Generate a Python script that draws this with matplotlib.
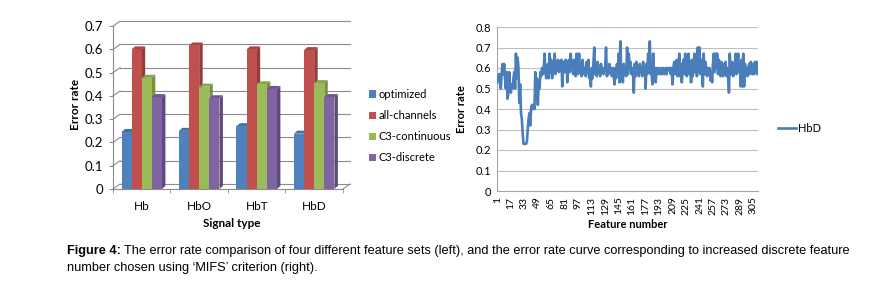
import matplotlib
matplotlib.use("Agg")
import numpy as np
import matplotlib.pyplot as plt
from matplotlib.patches import Polygon

plt.rcParams['font.family'] = ['Lato', 'DejaVu Sans']

# ---- data: bar chart (left)
signal_types = ["Hb", "HbO", "HbT", "HbD"]
series_names = ["optimized", "all-channels", "C3-continuous", "C3-discrete"]
optimized = [0.245, 0.25, 0.27, 0.238]
all_channels = [0.60, 0.617, 0.60, 0.597]
c3_continuous = [0.478, 0.44, 0.45, 0.455]
c3_discrete = [0.395, 0.39, 0.43, 0.395]

# ---- data: error rate vs. feature number (right), HbD
hbd_error = [
    0.53, 0.55, 0.57, 0.57, 0.50, 0.57, 0.62, 0.57, 0.62, 0.55, 0.50, 0.58, 0.45, 0.48, 0.58, 0.50, 0.48, 0.52, 0.50, 0.55,
    0.58, 0.50, 0.67, 0.55, 0.65, 0.60, 0.43, 0.52, 0.38, 0.35, 0.28, 0.23, 0.23, 0.23, 0.23, 0.24, 0.30, 0.35, 0.38, 0.32,
    0.40, 0.42, 0.40, 0.42, 0.40, 0.58, 0.45, 0.55, 0.42, 0.52, 0.50, 0.58, 0.56, 0.60, 0.57, 0.60, 0.67, 0.58, 0.55, 0.60,
    0.62, 0.55, 0.67, 0.58, 0.64, 0.55, 0.63, 0.60, 0.67, 0.57, 0.62, 0.60, 0.64, 0.58, 0.63, 0.60, 0.64, 0.51, 0.60, 0.63,
    0.58, 0.64, 0.62, 0.53, 0.60, 0.64, 0.58, 0.67, 0.62, 0.60, 0.57, 0.64, 0.60, 0.56, 0.67, 0.60, 0.57, 0.67, 0.58, 0.62,
    0.56, 0.64, 0.60, 0.57, 0.60, 0.56, 0.63, 0.58, 0.64, 0.55, 0.56, 0.51, 0.60, 0.55, 0.62, 0.70, 0.57, 0.60, 0.56, 0.63,
    0.58, 0.60, 0.56, 0.62, 0.58, 0.60, 0.57, 0.59, 0.60, 0.70, 0.56, 0.60, 0.57, 0.62, 0.58, 0.60, 0.56, 0.60, 0.58, 0.52,
    0.60, 0.55, 0.62, 0.58, 0.67, 0.53, 0.73, 0.58, 0.60, 0.53, 0.62, 0.57, 0.60, 0.56, 0.70, 0.57, 0.67, 0.60, 0.63, 0.57,
    0.60, 0.58, 0.48, 0.62, 0.56, 0.63, 0.57, 0.60, 0.56, 0.62, 0.58, 0.60, 0.56, 0.63, 0.57, 0.60, 0.50, 0.62, 0.57, 0.67,
    0.58, 0.73, 0.57, 0.60, 0.52, 0.67, 0.56, 0.60, 0.53, 0.60, 0.57, 0.60, 0.58, 0.57, 0.60, 0.57, 0.58, 0.60, 0.57, 0.59,
    0.60, 0.57, 0.60, 0.59, 0.60, 0.60, 0.57, 0.60, 0.52, 0.60, 0.63, 0.57, 0.60, 0.64, 0.56, 0.60, 0.67, 0.56, 0.62, 0.53,
    0.60, 0.64, 0.57, 0.67, 0.60, 0.56, 0.62, 0.67, 0.57, 0.60, 0.53, 0.64, 0.56, 0.60, 0.67, 0.58, 0.62, 0.56, 0.70, 0.58,
    0.70, 0.57, 0.64, 0.60, 0.51, 0.67, 0.57, 0.63, 0.60, 0.56, 0.60, 0.57, 0.60, 0.54, 0.58, 0.53, 0.62, 0.67, 0.58, 0.67,
    0.60, 0.67, 0.57, 0.64, 0.60, 0.56, 0.63, 0.60, 0.56, 0.62, 0.57, 0.63, 0.56, 0.60, 0.57, 0.48, 0.67, 0.57, 0.60, 0.63,
    0.56, 0.62, 0.60, 0.67, 0.57, 0.62, 0.67, 0.58, 0.60, 0.51, 0.64, 0.51, 0.67, 0.51, 0.62, 0.57, 0.60, 0.56, 0.60, 0.62,
    0.57, 0.63, 0.60, 0.57, 0.62, 0.57, 0.63, 0.58, 0.63, 0.57,
]

face_cols = ["#4F81BD", "#C0504D", "#9BBB59", "#8064A2"]
side_cols = ["#3A6396", "#943C3A", "#76923F", "#5F4A7D"]
top_cols = ["#44719F", "#A84543", "#86A44C", "#6E5690"]

W, H = 870, 281
fig = plt.figure(figsize=(W / 100, H / 100), dpi=100)


def px_axes(x0, y0, x1, y1):
    # pixel box (top-left origin) -> figure fraction
    return fig.add_axes([x0 / W, (H - y1) / H, (x1 - x0) / W, (y1 - y0) / H])


# ================= left: pseudo-3D clustered columns
ax = px_axes(113, 20, 350, 189)
wall_dx, wall_dy = 0.123, 0.0215
bar_dx, bar_dy = 0.06, 0.013
xmin, xmax = -0.5, 3.5
ax.set_xlim(xmin, xmax + wall_dx)
ax.set_ylim(0, 0.7 + wall_dy + 0.005)
grid_c = "#8C8C8C"

yt = np.arange(0, 0.71, 0.1)
for v in yt:
    ax.plot([xmin, xmin + wall_dx], [v, v + wall_dy], color=grid_c, lw=0.8, clip_on=False)
    ax.plot([xmin + wall_dx, xmax + wall_dx], [v + wall_dy, v + wall_dy], color=grid_c, lw=0.8, clip_on=False)
# floor front edge and right slant
ax.plot([xmin, xmax], [0, 0], color=grid_c, lw=0.8, clip_on=False)
ax.plot([xmax, xmax + wall_dx], [0, wall_dy], color=grid_c, lw=0.8, clip_on=False)
ax.plot([xmin, xmin], [0, 0.7], color=grid_c, lw=0.8, clip_on=False)

series = [optimized, all_channels, c3_continuous, c3_discrete]
bw = 0.176
xs = np.arange(len(signal_types))
z = 3
for gi in range(len(signal_types)):
    for si, vals in enumerate(series):
        xl = xs[gi] - 2 * bw + si * bw
        xr = xl + bw
        v = vals[gi]
        ax.add_patch(Polygon([(xr, 0), (xr + bar_dx, bar_dy), (xr + bar_dx, v + bar_dy), (xr, v)],
                             closed=True, facecolor=side_cols[si], edgecolor="none", zorder=z))
        ax.add_patch(Polygon([(xl, v), (xl + bar_dx, v + bar_dy), (xr + bar_dx, v + bar_dy), (xr, v)],
                             closed=True, facecolor=top_cols[si], edgecolor="none", zorder=z))
        ax.bar(xl, v, width=bw, align="edge", color=face_cols[si], zorder=z + 1)
        z += 2

for s in ax.spines.values():
    s.set_visible(False)
ax.set_yticks(yt)
ax.set_yticklabels(["0", "0.1", "0.2", "0.3", "0.4", "0.5", "0.6", "0.7"], fontsize=9.5)
ax.tick_params(axis="y", length=3, color=grid_c, pad=4)
ax.set_xticks(xs)
ax.set_xticklabels(signal_types, fontsize=8.5)
ax.set_xticks(np.arange(xmin, xmax + 0.01, 1.0), minor=True)
ax.tick_params(axis="x", which="major", length=0, pad=9)
ax.tick_params(axis="x", which="minor", length=3, color=grid_c)
ax.set_xlabel("Signal type", fontsize=8.5, fontweight="bold", labelpad=4)
ax.set_ylabel("Error rate", fontsize=8.5, fontweight="bold", labelpad=3)

# legend of bar chart
for si, name in enumerate(series_names):
    yy = 1 - (94 + 21.3 * si) / H
    fig.patches.append(plt.Rectangle((369 / W, yy - 3.5 / H), 7 / W, 7 / H, transform=fig.transFigure,
                                     facecolor=face_cols[si], edgecolor="none"))
    fig.text(379 / W, yy, name, fontsize=8, va="center", ha="left")

# ================= right: error rate curve
ax2 = px_axes(497, 27, 758, 191)
feat = np.arange(1, len(hbd_error) + 1)
ax2.plot(feat, hbd_error, color="#4A7EBB", lw=1.9, zorder=3)
ax2.set_xlim(0.5, len(hbd_error) + 0.5)
ax2.set_ylim(0, 0.8)
ax2.set_yticks(np.arange(0, 0.81, 0.1))
ax2.set_yticklabels(["0", "0.1", "0.2", "0.3", "0.4", "0.5", "0.6", "0.7", "0.8"], fontsize=8)
ax2.yaxis.grid(True, color="#BFBFBF", lw=0.8)
ax2.set_axisbelow(True)
xt = np.arange(1, 306, 16)
ax2.set_xticks(xt)
ax2.set_xticklabels([str(t) for t in xt], rotation=90, fontsize=7.5)
ax2.tick_params(axis="both", length=0, pad=4)
for k in ["top", "right"]:
    ax2.spines[k].set_visible(False)
for k in ["left", "bottom"]:
    ax2.spines[k].set_color("#A6A6A6")
ax2.set_xlabel("Feature number", fontsize=8, fontweight="bold", labelpad=3)
ax2.set_ylabel("Error rate", fontsize=8, fontweight="bold", labelpad=6)
ax2.legend(["HbD"], loc="center left", bbox_to_anchor=(1.04, 0.38), frameon=False,
           fontsize=8, handlelength=1.6, handletextpad=0.2)

# ================= caption
cap_font = ['Liberation Sans', 'DejaVu Sans']
cap_size = 9.2
lab = fig.text(67 / W, 1 - 251 / H, "Figure 4:", fontsize=cap_size, fontweight="bold", family=cap_font, va="center")
fig.canvas.draw()
bb = lab.get_window_extent()
fig.text((bb.x1 + 3) / W, 1 - 251 / H,
         "The error rate comparison of four different feature sets (left), and the error rate curve corresponding to increased discrete feature",
         fontsize=cap_size, family=cap_font, va="center")
fig.text(67 / W, 1 - 268 / H, "number chosen using \u2018MIFS\u2019 criterion (right).",
         fontsize=cap_size, family=cap_font, va="center")

fig.savefig("out.png", dpi=100)
